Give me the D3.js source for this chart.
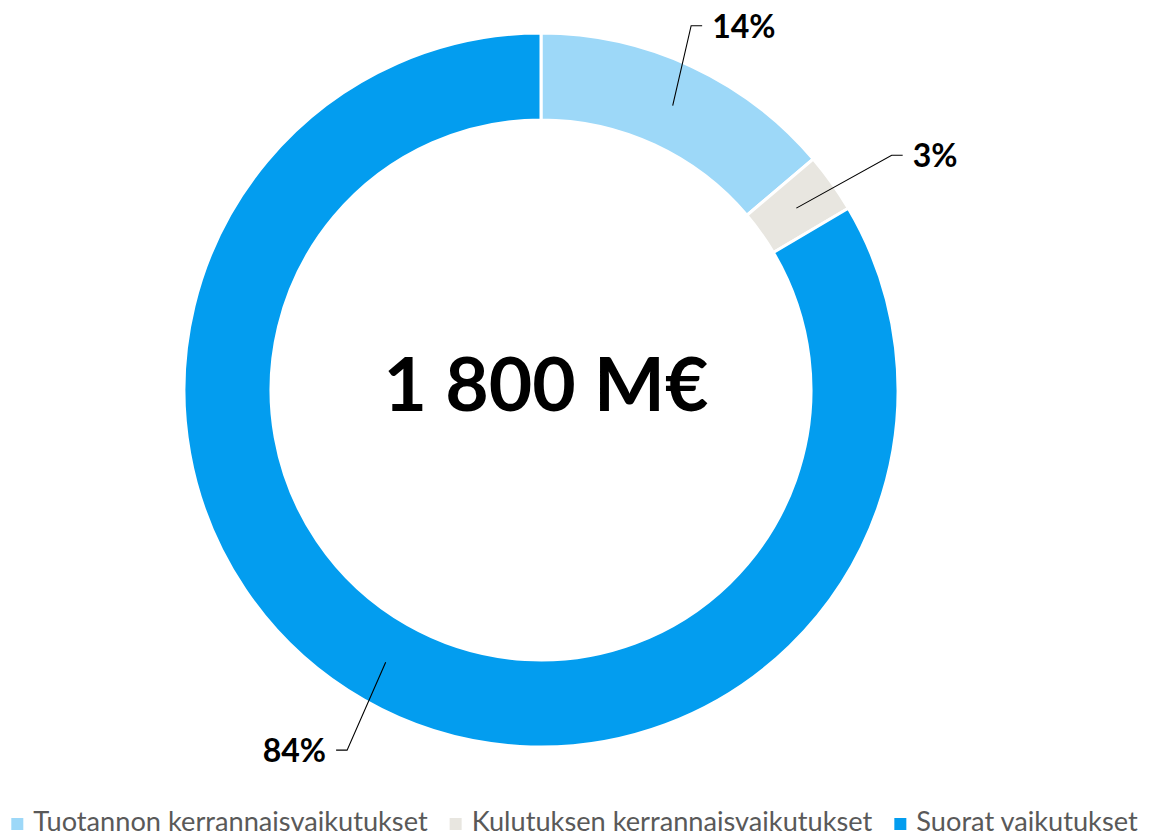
<!DOCTYPE html>
<html><head><meta charset="utf-8">
<script src="https://cdn.jsdelivr.net/npm/d3@7"></script>
<style>
html,body{margin:0;padding:0;background:#fff;overflow:hidden;}
svg{display:block;}
</style></head>
<body>
<svg id="chart" width="1149" height="836"></svg>
<script>
// ---- data ----
const categories = ["Tuotannon kerrannaisvaikutukset", "Kulutuksen kerrannaisvaikutukset", "Suorat vaikutukset"];
const values = [13.8, 2.7, 83.5];
const colors = ["#9DD8F8", "#E8E6E0", "#039DEF"];
const centerLabel = "1 800 M€";

// ---- layout ----
const W = 1149, H = 836;
const cx = 541, cy = 390;
const outerR = 357, innerR = 270;
// leader-line elbow placement per slice (angle in degrees from 12 o'clock, radius)
const elbows = [{a: 22.4, r: 394, dir: 1}, {a: 56.2, r: 422, dir: 1}, {a: 208.3, r: 409, dir: -1}];

const svg = d3.select("#chart");
const g = svg.append("g").attr("transform", `translate(${cx},${cy})`);

const pie = d3.pie().sort(null).value(d => d.v);
const arcs = pie(values.map((v, i) => ({v, i})));
const arc = d3.arc().innerRadius(innerR).outerRadius(outerR);
const total = d3.sum(values);

g.selectAll("path.slice").data(arcs).join("path")
  .attr("class", "slice")
  .attr("d", arc)
  .attr("fill", d => colors[d.data.i])
  .attr("stroke", "#fff")
  .attr("stroke-width", 3)
  .attr("stroke-linejoin", "miter");

// leader lines + labels
arcs.forEach((d, i) => {
  const c = arc.centroid(d);
  const e = elbows[i];
  const ang = e.a * Math.PI / 180;
  const ex = Math.sin(ang) * e.r, ey = -Math.cos(ang) * e.r;
  const hx = ex + e.dir * 11;
  g.append("polyline")
    .attr("points", `${c[0]},${c[1]} ${ex},${ey} ${hx},${ey}`)
    .attr("fill", "none").attr("stroke", "#000").attr("stroke-width", 1.1);
  g.append("text")
    .attr("x", hx + e.dir * 10)
    .attr("y", ey + 12)
    .attr("text-anchor", e.dir > 0 ? "start" : "end")
    .attr("font-family", "Lato, 'Open Sans', sans-serif")
    .attr("font-weight", 700)
    .attr("font-size", 32)
    .attr("fill", "#000")
    .text(Math.round(d.data.v / total * 100) + "%");
});

// center label
g.append("text")
  .attr("x", 5).attr("y", 21)
  .attr("text-anchor", "middle")
  .attr("font-family", "Lato, 'Open Sans', sans-serif")
  .attr("font-weight", 700)
  .attr("font-size", 75)
  .attr("fill", "#000")
  .text(centerLabel);

// legend
const legend = svg.append("g");
const sq = 12, gapSqText = 10, gapItems = 22, legBase = 831, targetSpan = 1127;
let fs = 23;
const items = legend.selectAll("g.item").data(categories).join("g").attr("class", "item");
items.append("rect").attr("width", sq).attr("height", sq).attr("y", legBase - 13)
  .attr("fill", (d, i) => colors[i]);
const texts = items.append("text").attr("x", sq + gapSqText).attr("y", legBase)
  .attr("font-family", "Lato, 'Open Sans', sans-serif")
  .attr("font-size", fs).attr("fill", "#595959").text(d => d);
// fit font size so the legend spans the same width as the reference
let tw = 0; texts.each(function() { tw += this.getComputedTextLength(); });
const fixed = categories.length * (sq + gapSqText) + gapItems * (categories.length - 1);
fs = fs * (targetSpan - fixed) / tw;
texts.attr("font-size", fs);
const widths = [];
items.each(function() { widths.push(d3.select(this).select("text").node().getComputedTextLength() + sq + gapSqText); });
const totalW = d3.sum(widths) + gapItems * (widths.length - 1);
let x0 = (W - totalW) / 2;
items.each(function(d, i) { d3.select(this).attr("transform", `translate(${x0},0)`); x0 += widths[i] + gapItems; });
</script>
</body></html>
